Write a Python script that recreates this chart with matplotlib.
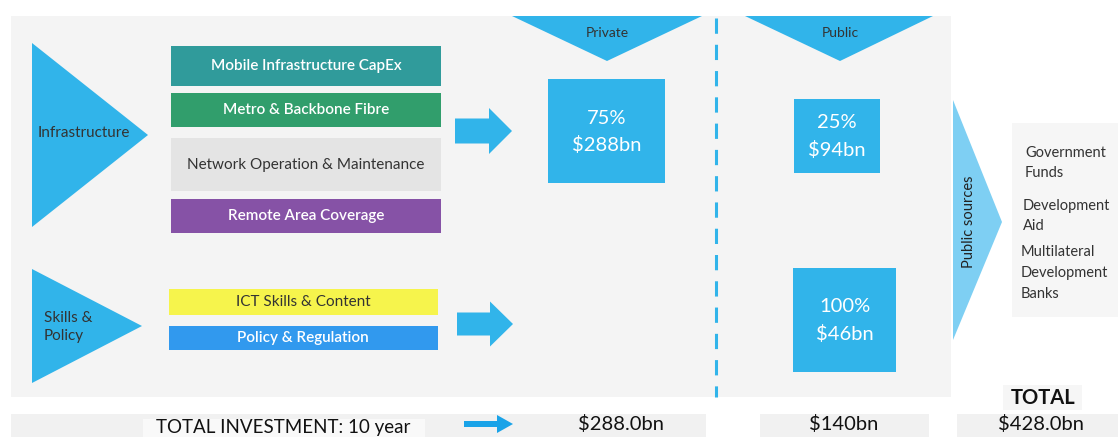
import matplotlib
matplotlib.use("Agg")
import matplotlib.pyplot as plt
from matplotlib.patches import Polygon, Rectangle

plt.rcParams['font.family'] = ['Lato', 'DejaVu Sans']

# ---- data ----
groups = ["Infrastructure", "Skills &\nPolicy"]
infra_items = ["Mobile Infrastructure CapEx", "Metro & Backbone Fibre",
               "Network Operation & Maintenance", "Remote Area Coverage"]
infra_colors = ["#309B9B", "#319E6C", "#E4E4E4", "#8652A6"]
infra_text_colors = ["white", "white", "#333333", "white"]
skills_items = ["ICT Skills & Content", "Policy & Regulation"]
skills_colors = ["#F6F44C", "#3199EE"]
skills_text_colors = ["#333333", "white"]
sectors = ["Private", "Public"]
infra_pct = ["75%", "25%"]
infra_amt = ["$288bn", "$94bn"]
skills_pct = ["100%"]
skills_amt = ["$46bn"]
public_sources = ["Government\nFunds", "Development\nAid", "Multilateral\nDevelopment\nBanks"]
total_label = "TOTAL INVESTMENT: 10 year"
totals = ["$288.0bn", "$140bn", "$428.0bn"]

BLUE = "#31B4EA"
W, H = 1118, 437
fig = plt.figure(figsize=(W / 100, H / 100), dpi=100)
ax = fig.add_axes([0, 0, 1, 1])
ax.set_xlim(0, W)
ax.set_ylim(H, 0)
ax.axis("off")

def rect(x0, y0, x1, y1, color, z=1):
    ax.add_patch(Rectangle((x0, y0), x1 - x0, y1 - y0, facecolor=color, edgecolor="none", zorder=z))

def poly(pts, color, z=2):
    ax.add_patch(Polygon(pts, closed=True, facecolor=color, edgecolor="none", zorder=z))

def arrow(x0, x_head, x_tip, y_c, shaft_h, head_h, color):
    poly([(x0, y_c - shaft_h / 2), (x_head, y_c - shaft_h / 2), (x_head, y_c - head_h / 2),
          (x_tip, y_c), (x_head, y_c + head_h / 2), (x_head, y_c + shaft_h / 2),
          (x0, y_c + shaft_h / 2)], color, z=3)

# main panel
rect(11, 16, 951, 397, "#F4F4F4", 0)

# group triangles
poly([(32, 43), (148, 135), (32, 227)], BLUE)
ax.text(38, 133, groups[0], fontsize=11, color="#333333", va="center", ha="left", zorder=5)
poly([(32, 269), (142, 326), (32, 383)], BLUE)
ax.text(44, 327, groups[1], fontsize=11, color="#333333", va="center", ha="left",
        linespacing=1.45, zorder=5)

# infra boxes
infra_y = [(46, 86), (93, 127), (138, 191), (199, 233)]
for lab, col, tc, (y0, y1) in zip(infra_items, infra_colors, infra_text_colors, infra_y):
    rect(171, y0, 441, y1, col, 2)
    ax.text(306, (y0 + y1) / 2, lab, fontsize=11, color=tc, ha="center", va="center",
            fontweight="semibold" if tc == "white" else "normal", zorder=5)

skills_y = [(289, 315), (326, 350)]
for lab, col, tc, (y0, y1) in zip(skills_items, skills_colors, skills_text_colors, skills_y):
    rect(169, y0, 438, y1, col, 2)
    ax.text(303, (y0 + y1) / 2, lab, fontsize=11, color=tc, ha="center", va="center",
            fontweight="semibold" if tc == "white" else "normal", zorder=5)

# arrows
arrow(455, 489, 512, 131, 25, 46, BLUE)
arrow(457, 490, 513, 324, 23, 45, BLUE)

# sector triangles
for (xl, xr, xt), lab in zip([(512, 702, 607), (745, 933, 840)], sectors):
    poly([(xl, 16), (xr, 16), (xt, 61)], BLUE)
    ax.text(xt, 33, lab, fontsize=10, color="#333333", ha="center", va="center", zorder=5)

# dashed divider
ax.plot([716, 716], [18, 397], color=BLUE, lw=2.2, dashes=(5, 3.6), zorder=3)

# value boxes
boxes = [((548, 79, 665, 183), infra_pct[0], infra_amt[0]),
         ((794, 99, 880, 173), infra_pct[1], infra_amt[1]),
         ((793, 268, 896, 372), skills_pct[0], skills_amt[0])]
for (x0, y0, x1, y1), p, a in boxes:
    rect(x0, y0, x1, y1, BLUE, 2)
    cx, cy = (x0 + x1) / 2, (y0 + y1) / 2
    ax.text(cx, cy - 13, p, fontsize=14.5, color="white", ha="center", va="center", zorder=5)
    ax.text(cx, cy + 14, a, fontsize=14.5, color="white", ha="center", va="center", zorder=5)

# public sources
poly([(953, 100), (1002, 222), (953, 340)], "#7ECFF3")
ax.text(969, 222, "Public sources", rotation=90, fontsize=10.5, color="#222222",
        ha="center", va="center", zorder=5)
rect(1012, 123, 1118, 317, "#F6F6F6", 1)
for (x, y, lab) in zip([1025, 1023, 1021], [163, 216, 273], public_sources):
    ax.text(x, y, lab, fontsize=10.5, color="#333333", ha="left", va="center",
            linespacing=1.6, zorder=5)

# bottom row
rect(11, 414, 706, 437, "#F1F1F1", 0)
rect(143, 419, 425, 437, "#F9F9F9", 1)
rect(760, 414, 929, 437, "#F1F1F1", 0)
rect(957, 414, 1118, 437, "#F1F1F1", 0)
rect(1003, 385, 1082, 410, "#F6F6F6", 0)
ax.text(1043, 398, "TOTAL", fontsize=14.5, fontweight="bold", color="#111111",
        ha="center", va="center", zorder=5)
ax.text(283, 428, total_label, fontsize=13.5, color="#111111", ha="center", va="center", zorder=5)
arrow(464, 497, 513, 424, 6, 18, "#1AA3E8")
for x, t in zip([621, 844, 1041], totals):
    ax.text(x, 424, t, fontsize=14.5, color="#111111", ha="center", va="center", zorder=5)

fig.savefig("out.png", dpi=100)
